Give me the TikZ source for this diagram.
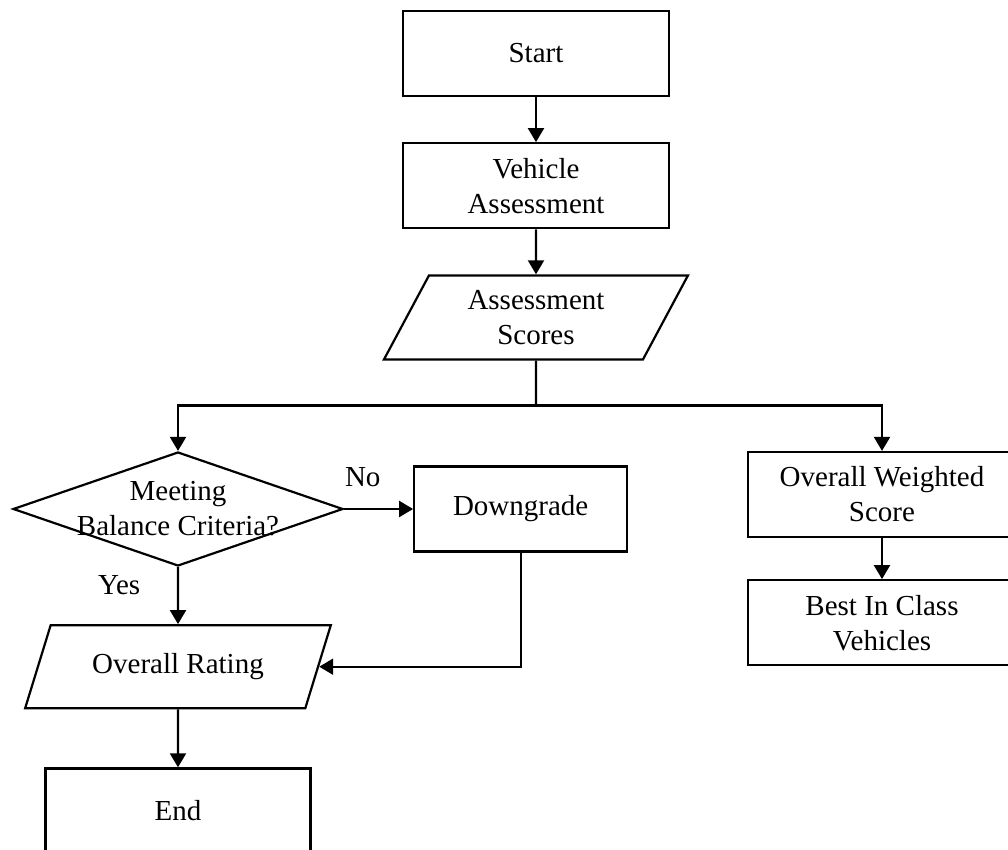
\documentclass[tikz,border=0pt]{standalone}
\usepackage{fontspec}
\setmainfont{Liberation Serif}
\usetikzlibrary{arrows.meta,shapes.geometric,positioning}
\tikzstyle{block} = [rectangle, draw, line width=1.1pt, align=center,
    minimum width=133pt, minimum height=42.5pt, inner sep=0pt]
\tikzstyle{io} = [trapezium, draw, line width=1.1pt, align=center,
    trapezium left angle=65, trapezium right angle=115,
    trapezium stretches=true, minimum width=152pt, minimum height=42pt]
\tikzstyle{decision} = [diamond, draw, line width=1.1pt, inner sep=0pt,
    minimum width=165pt, minimum height=57pt]

\begin{document}
\begin{tikzpicture}[x=0.5pt,y=-0.5pt,->,>={Triangle[length=7pt,width=8pt]},
                    line width=1.1pt,font=\fontsize{14.5}{17.5}\selectfont]
  \useasboundingbox (0,0) rectangle (1008,850);
  \node[block] (start) at (536,53.5) {Start};
  \node[block] (va) [below=22.5pt of start] {Vehicle\\Assessment};
  \node[io] (scores) [below=22.5pt of va] {Assessment\\Scores};
  \coordinate[below=22.5pt of scores] (split);

  \node[decision,label={[align=center]center:Meeting\\Balance Criteria?}] (dec) at (178,509) {};
  \node[block,minimum width=106.5pt] (down) [right=34.5pt of dec] {Downgrade};
  \node[io,minimum width=153pt,minimum height=41.5pt] (rating) [below=28.5pt of dec] {Overall Rating};
  \node[block,minimum width=132.5pt] (term) [below=29pt of rating] {End};

  \node[block,minimum width=134pt] (ows) at (882,494.5) {Overall Weighted\\Score};
  \node[block,minimum width=134pt] (bic) [below=20.5pt of ows] {Best In Class\\Vehicles};

  \path (start) edge (va)
        (va) edge (scores)
        (dec) edge node[pos=0.27,above=7pt] {No} (down)
        (dec) edge node[pos=0.32,left=15pt] {Yes} (rating)
        (rating) edge (term)
        (ows) edge (bic);
  \draw[-] (scores) -- (split);
  \draw (split) -| (dec.north);
  \draw (split) -| (ows.north);
  \draw (down.south) |- (rating.east);
\end{tikzpicture}
\end{document}
